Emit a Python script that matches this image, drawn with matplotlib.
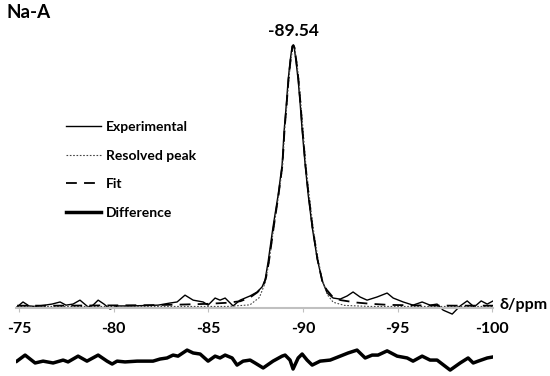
import matplotlib
matplotlib.use('Agg')
import matplotlib.pyplot as plt

plt.rcParams['font.family'] = ['Lato', 'DejaVu Sans']
plt.rcParams['font.weight'] = 'bold'
plt.rcParams['axes.unicode_minus'] = False

# Experimental spectrum (ppm, intensity)
exp_ppm = [-74.89, -75.21, -75.53, -75.85, -76.37, -76.74, -77.17, -77.48, -77.85, -78.22,
           -78.65, -78.91, -79.18, -79.49, -79.81, -80.23, -80.87, -81.66, -82.35, -82.98,
           -83.35, -83.77, -84.20, -84.73, -84.99, -85.36, -85.62, -85.89, -86.31, -86.68,
           -87.21, -87.58, -87.84, -88.00, -88.16, -88.42, -88.69, -88.90, -89.01, -89.12,
           -89.22, -89.33, -89.43, -89.48, -89.54, -89.64, -89.75, -89.86, -89.96, -90.12,
           -90.28, -90.49, -90.75, -91.01, -91.28, -91.60, -91.97, -92.34, -92.65, -93.02,
           -93.39, -93.92, -94.45, -94.77, -95.30, -95.82, -96.30, -96.72, -97.09, -97.41,
           -97.89, -98.31, -98.68, -99.05, -99.42, -99.74, -100.05]
exp_int = [0.004, 0.023, 0.008, 0.006, 0.011, 0.015, 0.023, 0.011, 0.015, 0.030,
           0.004, 0.011, 0.030, 0.015, -0.004, 0.008, 0.008, 0.0095, 0.011, 0.019,
           0.023, 0.049, 0.030, 0.023, 0.011, 0.038, 0.030, 0.038, 0.008, 0.030,
           0.046, 0.061, 0.080, 0.106, 0.175, 0.308, 0.430, 0.544, 0.677, 0.772,
           0.867, 0.943, 0.996, 1.000, 0.992, 0.935, 0.867, 0.772, 0.677, 0.544,
           0.430, 0.308, 0.190, 0.106, 0.057, 0.038, 0.034, 0.046, 0.061, 0.042,
           0.030, 0.042, 0.057, 0.038, 0.023, 0.011, 0.023, 0.011, 0.015, -0.008,
           -0.023, 0.008, 0.027, 0.004, 0.027, 0.015, 0.027]

# Resolved peak
res_ppm = [-74.9, -86.0, -87.2, -87.7, -88.0, -88.2, -88.45, -88.72, -88.93, -89.04,
           -89.15, -89.25, -89.36, -89.46, -89.51, -89.57, -89.68, -89.79, -89.90, -90.01,
           -90.16, -90.33, -90.54, -90.80, -91.05, -91.3, -91.6, -92.2, -93.5, -100.05]
res_int = [0.006, 0.006, 0.012, 0.040, 0.095, 0.17, 0.30, 0.43, 0.54, 0.68,
           0.77, 0.865, 0.94, 0.99, 1.0, 0.99, 0.935, 0.865, 0.77, 0.675,
           0.54, 0.43, 0.305, 0.185, 0.10, 0.05, 0.022, 0.010, 0.006, 0.006]

# Fit
fit_ppm = [-74.9, -77, -80, -82, -83.5, -85, -86, -86.7, -87.2, -87.6,
           -87.9, -88.05, -88.2, -88.45, -88.71, -88.92, -89.03, -89.14, -89.24, -89.35,
           -89.45, -89.50, -89.56, -89.66, -89.77, -89.88, -89.98, -90.14, -90.30, -90.51,
           -90.77, -91.03, -91.25, -91.6, -92.0, -92.8, -93.6, -94.5, -96, -98, -100.05]
fit_int = [0.009, 0.009, 0.010, 0.011, 0.013, 0.016, 0.020, 0.026, 0.040, 0.060,
           0.085, 0.115, 0.175, 0.305, 0.43, 0.545, 0.68, 0.775, 0.87, 0.945,
           0.995, 1.0, 0.99, 0.935, 0.865, 0.77, 0.675, 0.54, 0.43, 0.305,
           0.185, 0.100, 0.070, 0.040, 0.030, 0.021, 0.016, 0.012, 0.010, 0.009, 0.009]

# Difference (drawn with offset below the axis)
diff_ppm = [-74.89, -75.32, -75.85, -76.27, -76.80, -77.33, -77.59, -78.12, -78.59, -79.18,
            -79.65, -79.92, -80.18, -80.60, -81.24, -81.77, -82.08, -82.45, -82.82, -83.14,
            -83.40, -83.88, -84.20, -84.57, -84.99, -85.36, -85.62, -85.89, -86.26, -86.52,
            -86.84, -87.21, -87.47, -87.90, -88.42, -88.90, -89.06, -89.32, -89.48, -89.75,
            -89.96, -90.22, -90.49, -90.91, -91.44, -91.97, -92.39, -92.86, -93.29, -93.66,
            -93.97, -94.45, -94.98, -95.51, -95.82, -96.30, -96.72, -97.09, -97.78, -98.31,
            -98.73, -99.00, -99.26, -99.74, -100.05]
diff_int = [-0.202, -0.179, -0.209, -0.202, -0.209, -0.198, -0.205, -0.183, -0.202, -0.179,
            -0.202, -0.213, -0.202, -0.205, -0.202, -0.202, -0.202, -0.194, -0.190, -0.179,
            -0.183, -0.160, -0.171, -0.175, -0.202, -0.183, -0.190, -0.179, -0.190, -0.217,
            -0.202, -0.198, -0.209, -0.228, -0.202, -0.183, -0.179, -0.198, -0.232, -0.190,
            -0.175, -0.198, -0.217, -0.202, -0.198, -0.183, -0.171, -0.160, -0.190, -0.179,
            -0.179, -0.163, -0.183, -0.190, -0.202, -0.183, -0.198, -0.198, -0.236, -0.209,
            -0.190, -0.209, -0.202, -0.190, -0.186]

ticks = [-75, -80, -85, -90, -95, -100]
tick_labels = ['-75', '-80', '-85', '-90', '-95', '-100']

fig = plt.figure(figsize=(5.5, 3.76), dpi=100)
ax = fig.add_axes([16.2 / 550, 2.25 / 376, (493.1 - 16.2) / 550, (373.75 - 32) / 376])

ax.plot(exp_ppm, exp_int, color='black', lw=1.0, label='Experimental')
ax.plot(res_ppm, res_int, color='#444444', lw=0.8, linestyle=(0, (1.5, 1.5)), label='Resolved peak')
ax.plot(fit_ppm, fit_int, color='black', lw=1.3, linestyle=(0, (6, 4)), label='Fit')
ax.plot(diff_ppm, diff_int, color='black', lw=2.5, label='Difference')

ax.set_xlim(-74.85, -100.05)
ax.set_ylim(-0.25, 1.05)

for s in ['top', 'right', 'left']:
    ax.spines[s].set_visible(False)
ax.spines['bottom'].set_position(('data', 0))
ax.spines['bottom'].set_color('#c0c0c0')
ax.spines['bottom'].set_linewidth(1.5)
ax.set_yticks([])
ax.set_xticks(ticks)
ax.set_xticklabels(tick_labels, fontsize=11.5, fontweight='bold')
ax.tick_params(axis='x', direction='out', length=3, color='#c0c0c0', pad=7)

ax.text(-89.48, 1.053, '-89.54', ha='center', va='center', fontsize=12.5, fontweight='bold', clip_on=False)
fig.text(500 / 550, 1 - 305 / 376, 'δ/ppm', ha='left', va='center', fontsize=11.5, fontweight='bold')
fig.text(7 / 550, 1 - 13 / 376, 'Na-A', ha='left', va='center', fontsize=13.5, fontweight='bold')

ax.legend(loc='upper left', bbox_to_anchor=(66 / 550, 1 - 121 / 376), bbox_transform=fig.transFigure,
          frameon=False, handlelength=2.5, handletextpad=0.4, labelspacing=1.2,
          borderpad=0, borderaxespad=0, prop={'weight': 'bold', 'size': 10})

fig.savefig('out.png', dpi=100)
